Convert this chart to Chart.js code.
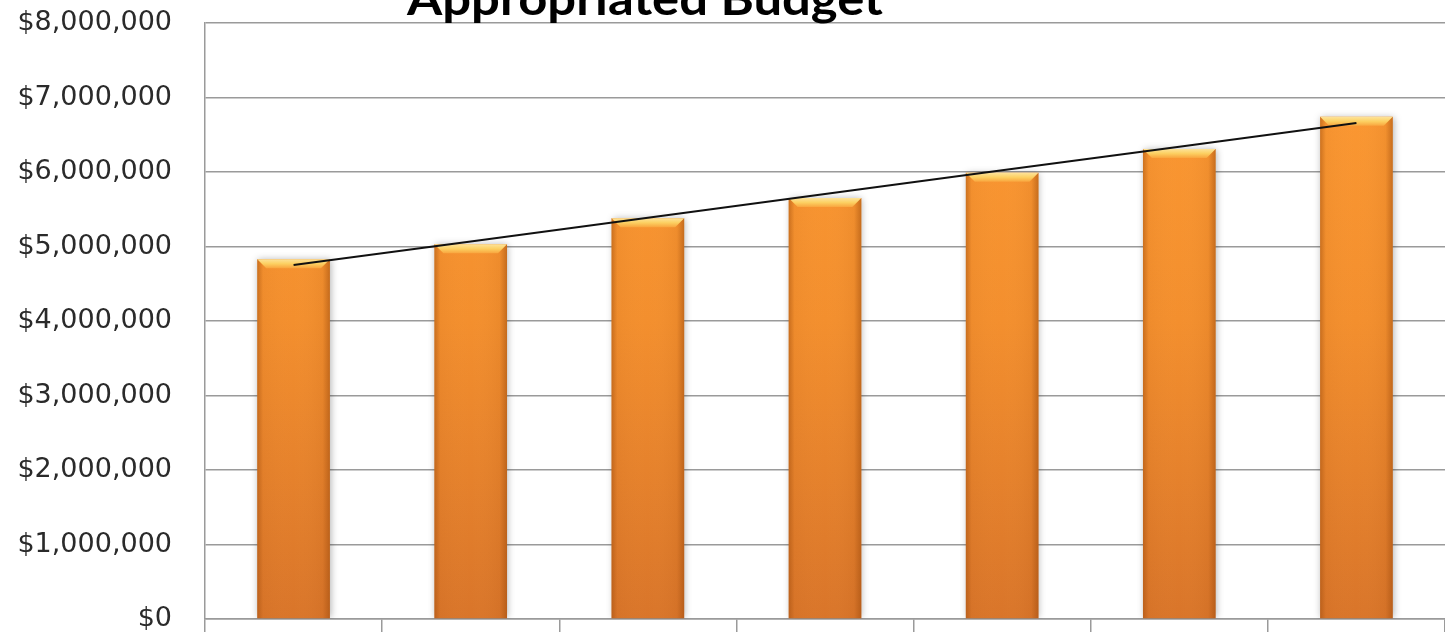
<!DOCTYPE html>
<html>
<head>
<meta charset="utf-8">
<script src="https://cdn.jsdelivr.net/npm/chart.js@4/dist/chart.umd.min.js"></script>
<style>
    html, body { margin: 0; padding: 0; background: #fff; }
    canvas { display: block; }
</style>
</head>
<body>
<canvas id="myChart" width="1445" height="632"></canvas>
<script>
'use strict';

// data
const chartTitle = 'Appropriated Budget';
const categories = ['1', '2', '3', '4', '5', '6', '7']; // x labels cut off in the original
const budget = [4830000, 5030000, 5380000, 5650000, 5990000, 6310000, 6740000];
const yTicks = [0, 1000000, 2000000, 3000000, 4000000, 5000000, 6000000, 7000000, 8000000];

/* linear trendline, like excel does it */
const n = budget.length;
const meanX = (n - 1) / 2;
const meanY = budget.reduce((a, b) => a + b, 0) / n;
let num = 0, den = 0;
budget.forEach(function(v, i) {
    num += (i - meanX) * (v - meanY);
    den += (i - meanX) * (i - meanX);
});
const slope = num / den;
const trend = budget.map((v, i) => meanY + slope * (i - meanX));

const money = v => '$' + v.toLocaleString('en-US');

/* orange fill, lighter up top */
function barFill(context) {
    const chart = context.chart;
    const area = chart.chartArea;
    if (!area || !isFinite(area.top) || !isFinite(area.bottom) || area.bottom <= area.top) return '#f7962e';
    const g = chart.ctx.createLinearGradient(0, area.top, 0, area.bottom);
    g.addColorStop(0, '#fd9a33');
    g.addColorStop(0.5, '#f38f2e');
    g.addColorStop(1, '#d9752a');
    return g;
}

/* soft shadow, bar shading + top bevel */
const barDecor = {
    id: 'barDecor',
    beforeDatasetDraw(chart, args) {
        if (args.meta.type !== 'bar') return;
        const ctx = chart.ctx;
        ctx.save();
        ctx.shadowColor = 'rgba(0,0,0,0.3)';
        ctx.shadowBlur = 7;
        ctx.shadowOffsetX = 1;
        ctx.shadowOffsetY = 0;
    },
    afterDatasetDraw(chart, args) {
        if (args.meta.type !== 'bar') return;
        const ctx = chart.ctx;
        ctx.restore();
        for (let bar of args.meta.data) {
            const w = bar.width;
            const l = bar.x - w / 2;
            const r = bar.x + w / 2;
            const top = bar.y;
            const bottom = bar.base;
            if (!isFinite(l) || !isFinite(top)) continue;
            ctx.save();
            // darker edges
            const side = ctx.createLinearGradient(l, 0, r, 0);
            side.addColorStop(0, 'rgba(150,70,10,0.45)');
            side.addColorStop(0.08, 'rgba(150,70,10,0.05)');
            side.addColorStop(0.5, 'rgba(255,200,120,0.0)');
            side.addColorStop(0.9, 'rgba(150,70,10,0.08)');
            side.addColorStop(1, 'rgba(150,70,10,0.5)');
            ctx.fillStyle = side;
            ctx.fillRect(l, top, w, bottom - top);
            // bevel cap
            const cap = 9;
            const capG = ctx.createLinearGradient(0, top, 0, top + cap);
            capG.addColorStop(0, '#fde39a');
            capG.addColorStop(0.5, '#fcd062');
            capG.addColorStop(1, '#f9a53e');
            ctx.fillStyle = capG;
            ctx.beginPath();
            ctx.moveTo(l, top);
            ctx.lineTo(r, top);
            ctx.lineTo(r - cap, top + cap);
            ctx.lineTo(l + cap, top + cap);
            ctx.closePath();
            ctx.fill();
            ctx.restore();
        }
    }
};

/* title drawn cut at the top like in the source */
const topTitle = {
    id: 'topTitle',
    afterDraw(chart) {
        const ctx = chart.ctx;
        ctx.save();
        ctx.font = 'bold 46px Lato, "DejaVu Sans", sans-serif';
        ctx.fillStyle = '#000';
        ctx.textBaseline = 'alphabetic';
        ctx.textAlign = 'left';
        const w = ctx.measureText(chartTitle).width;
        ctx.translate(407, 15);
        ctx.scale(476 / w, 1);
        ctx.fillText(chartTitle, 0, 0);
        ctx.restore();
    }
};

const ctx = document.getElementById('myChart').getContext('2d');

const chart = new Chart(ctx, {
    data: {
        labels: categories,
        datasets: [{
            type: 'line',
            label: 'Trend',
            data: trend,
            borderColor: '#111',
            borderWidth: 2,
            pointRadius: 0,
            fill: false,
            order: 0
        },
        {
            type: 'bar',
            label: 'Budget',
            data: budget,
            backgroundColor: barFill,
            borderWidth: 0,
            categoryPercentage: 1,
            barPercentage: 0.41,
            order: 1
        }]
    },
    options: {
        responsive: false,
        animation: false,
        devicePixelRatio: 1,
        layout: { padding: { top: 23, right: 0, bottom: 0, left: 0 } },
        plugins: {
            legend: { display: false },
            title: { display: false },
            tooltip: { enabled: false }
        },
        scales: {
            x: {
                offset: true,
                afterFit: function(scale) {
                    scale.height = 13;
                    scale.paddingLeft = 0;
                    scale.paddingRight = 0;
                },
                grid: {
                    offset: true,
                    drawOnChartArea: false,
                    drawTicks: true,
                    tickLength: 13,
                    color: '#9a9a9a',
                    lineWidth: 1.5
                },
                border: { color: '#9a9a9a', width: 1.5 },
                ticks: { display: false }
            },
            y: {
                min: 0,
                max: 8000000,
                afterBuildTicks: function(scale) {
                    scale.ticks = yTicks.map(v => ({ value: v }));
                },
                afterFit: function(scale) {
                    scale.width = 205;
                    scale.paddingTop = 0;
                    scale.paddingBottom = 0;
                },
                grid: {
                    color: '#9a9a9a',
                    lineWidth: 1.5,
                    drawTicks: false
                },
                border: { color: '#9a9a9a', width: 1.5 },
                ticks: {
                    autoSkip: false,
                    padding: 33,
                    color: '#2a2a2a',
                    font: { family: '"DejaVu Sans", sans-serif', size: 27 },
                    callback: v => money(v)
                }
            }
        }
    },
    plugins: [barDecor, topTitle]
});
</script>
</body>
</html>
